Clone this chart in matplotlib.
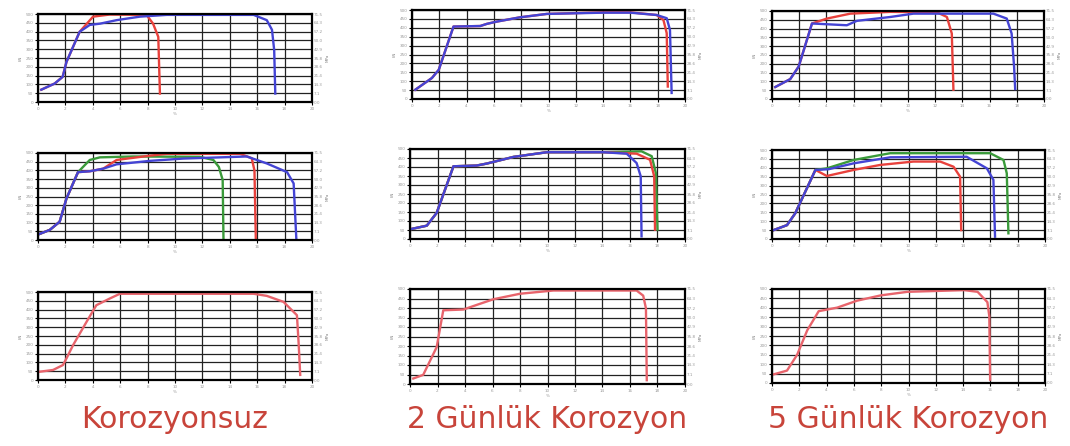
import numpy as np
import matplotlib
matplotlib.use("Agg")
import matplotlib.pyplot as plt

# --- data (x: uzama, y: yük) ---
# Korozyonsuz
p1_blue_x = [0.24, 1.22, 1.8, 2.08, 3.04, 3.78, 4.52, 5.74, 7.44, 9.4, 15.74, 16.7, 17.08, 17.24, 17.32]
p1_blue_y = [70, 105, 143, 228, 399, 438, 445, 465, 485, 495, 495, 465, 410, 295, 48]
p1_red_x = [0.24, 1.22, 1.8, 2.08, 3.04, 4.02, 5.24, 7.92, 8.4, 8.78, 8.9]
p1_red_y = [70, 105, 143, 228, 399, 485, 497, 495, 445, 370, 48]

p2_green_x = [0.12, 0.86, 1.58, 2.08, 2.92, 3.78, 4.52, 6.96, 11.8, 12.8, 13.2, 13.48, 13.54]
p2_green_y = [35, 58, 105, 239, 390, 460, 475, 480, 478, 460, 420, 345, 0]
p2_red_x = [0.12, 0.86, 1.58, 2.08, 2.92, 3.78, 4.76, 5.74, 8.2, 9.4, 14.76, 15.6, 15.8, 15.9]
p2_red_y = [35, 58, 105, 239, 390, 395, 410, 460, 485, 495, 495, 470, 400, 0]
p2_blue_x = [0.12, 0.86, 1.58, 2.08, 2.92, 3.78, 4.76, 5.74, 8.2, 10.6, 15.24, 16.7, 18.18, 18.66, 18.86]
p2_blue_y = [35, 58, 105, 239, 390, 395, 410, 435, 455, 468, 480, 440, 390, 325, 0]

p3_x = [0.12, 1.1, 1.82, 2.08, 2.56, 3.54, 4.26, 5.24, 5.98, 15.74, 16.7, 17.92, 18.9, 19.02, 19.14]
p3_y = [47, 57, 85, 123, 198, 330, 425, 463, 490, 490, 478, 444, 368, 215, 29]

# 2 Günlük Korozyon
p4_red_x = [0.24, 1.46, 1.96, 3.04, 5.0, 5.48, 6.22, 7.92, 9.88, 14.02, 15.98, 17.92, 18.42, 18.66, 18.74]
p4_red_y = [52, 118, 164, 407, 410, 422, 435, 459, 478, 487, 487, 472, 444, 370, 70]
p4_blue_x = [0.24, 1.46, 1.96, 3.04, 5.0, 5.48, 6.22, 7.92, 9.88, 14.02, 15.98, 17.92, 18.66, 18.9, 19.02]
p4_blue_y = [52, 118, 164, 407, 410, 422, 435, 459, 478, 485, 485, 472, 454, 388, 34]

p6_common_x = [0.12, 1.22, 1.94, 3.16, 4.84, 5.58, 7.52, 9.94, 14.06]
p6_common_y = [56, 74, 145, 404, 408, 419, 456, 482, 482]
p6_blue_x = p6_common_x + [15.76, 16.48, 16.78, 16.84]
p6_blue_y = p6_common_y + [474, 422, 348, 15]
p6_red_x = p6_common_x + [16.48, 17.46, 17.76, 17.82]
p6_red_y = p6_common_y + [474, 440, 348, 52]
p6_green_x = p6_common_x + [16.84, 17.58, 17.88, 18.0]
p6_green_y = p6_common_y + [487, 460, 367, 52]

p8_x = [0.24, 0.96, 1.94, 2.42, 3.88, 4.84, 6.06, 8.0, 10.42, 16.48, 16.96, 17.16, 17.22]
p8_y = [29, 48, 194, 388, 392, 416, 446, 475, 492, 492, 465, 398, 20]

# 5 Günlük Korozyon
p5_red_x = [0.24, 1.34, 1.96, 2.94, 4.04, 5.76, 8.7, 12.12, 12.86, 13.22, 13.34]
p5_red_y = [68, 113, 184, 429, 457, 485, 495, 493, 466, 372, 53]
p5_blue_x = [0.24, 1.34, 1.96, 2.94, 5.5, 6.24, 8.7, 10.4, 16.28, 17.26, 17.62, 17.8, 17.88]
p5_blue_y = [68, 113, 184, 429, 419, 444, 466, 485, 485, 457, 372, 184, 57]

p7_start_x = [0.12, 1.1, 1.7, 3.18]
p7_start_y = [50, 78, 144, 388]
p7_red_x = p7_start_x + [4.02, 5.98, 7.92, 10.36, 12.32, 13.3, 13.78, 13.86]
p7_red_y = p7_start_y + [354, 388, 416, 435, 435, 406, 350, 50]
p7_blue_x = p7_start_x + [4.14, 5.98, 8.66, 14.26, 15.74, 16.22, 16.34]
p7_blue_y = p7_start_y + [392, 425, 459, 462, 397, 332, 13]
p7_green_x = p7_start_x + [4.02, 5.98, 8.66, 15.98, 16.96, 17.2, 17.32]
p7_green_y = p7_start_y + [397, 444, 482, 482, 444, 369, 32]

p9_x = [0.12, 1.1, 1.84, 2.58, 3.42, 4.78, 6.24, 7.96, 9.92, 14.08, 15.06, 15.78, 15.92, 15.98]
p9_y = [46, 66, 150, 280, 382, 401, 438, 466, 485, 494, 485, 430, 355, 18]

captions = ["Korozyonsuz", "2 Günlük Korozyon", "5 Günlük Korozyon"]

RED, BLUE, GREEN, PINK = "#e8413c", "#4444d4", "#3a9a3a", "#e8646c"
W, H = 1070, 446

# panel boxes in pixels: left, right, top, bottom
boxes = [
    [(38, 312, 14, 102), (38, 312, 153, 240), (38, 312, 292, 380)],
    [(412, 685, 10, 99), (410, 685, 149, 239), (410, 685, 289, 384)],
    [(772, 1044, 11, 99), (772, 1045, 150, 239), (772, 1045, 289, 383)],
]

curves = [
    [[(p1_red_x, p1_red_y, RED), (p1_blue_x, p1_blue_y, BLUE)],
     [(p2_green_x, p2_green_y, GREEN), (p2_red_x, p2_red_y, RED), (p2_blue_x, p2_blue_y, BLUE)],
     [(p3_x, p3_y, PINK)]],
    [[(p4_red_x, p4_red_y, RED), (p4_blue_x, p4_blue_y, BLUE)],
     [(p6_green_x, p6_green_y, GREEN), (p6_red_x, p6_red_y, RED), (p6_blue_x, p6_blue_y, BLUE)],
     [(p8_x, p8_y, PINK)]],
    [[(p5_red_x, p5_red_y, RED), (p5_blue_x, p5_blue_y, BLUE)],
     [(p7_green_x, p7_green_y, GREEN), (p7_red_x, p7_red_y, RED), (p7_blue_x, p7_blue_y, BLUE)],
     [(p9_x, p9_y, PINK)]],
]

xticks = np.arange(0, 21, 2)
yticks = np.arange(0, 501, 50)

fig = plt.figure(figsize=(W / 100, H / 100), dpi=100)

for col in range(3):
    for row in range(3):
        l, r, t, b = boxes[col][row]
        ax = fig.add_axes([l / W, 1 - b / H, (r - l) / W, (b - t) / H])
        for xs, ys, c in curves[col][row]:
            ax.plot(xs, ys, color=c, lw=1.7, solid_joinstyle="round")
        ax.set_xlim(0, 20)
        ax.set_ylim(0, 500)
        ax.set_xticks(xticks)
        ax.set_yticks(yticks)
        ax.set_xticklabels([str(v) for v in xticks], fontsize=3, color="#999999")
        ax.set_yticklabels([str(v) for v in yticks], fontsize=3, color="#999999")
        ax.tick_params(length=2, width=0.8, pad=1.5)
        ax.grid(True, color="#222222", lw=0.9)
        for s in ax.spines.values():
            s.set_linewidth(1.6)
        ax.set_xlabel("%", fontsize=3, color="#999999", labelpad=1)
        ax.set_ylabel("kN", fontsize=3, color="#888888", labelpad=2)
        ax2 = ax.twinx()
        ax2.set_ylim(0, 500)
        ax2.set_yticks(yticks)
        ax2.set_yticklabels([f"{v * 0.143:.1f}" for v in yticks], fontsize=3, color="#999999")
        ax2.tick_params(length=0, pad=1.5)
        ax2.set_ylabel("MPa", fontsize=3, color="#888888", labelpad=2)
        for s in ax2.spines.values():
            s.set_visible(False)

    cx = (boxes[col][2][0] + boxes[col][2][1]) / 2 / W
    fig.text(cx, 1 - 420 / H, captions[col], ha="center", va="center",
             fontsize=21.5, color="#c8443a")

fig.savefig("out.png", dpi=100)
